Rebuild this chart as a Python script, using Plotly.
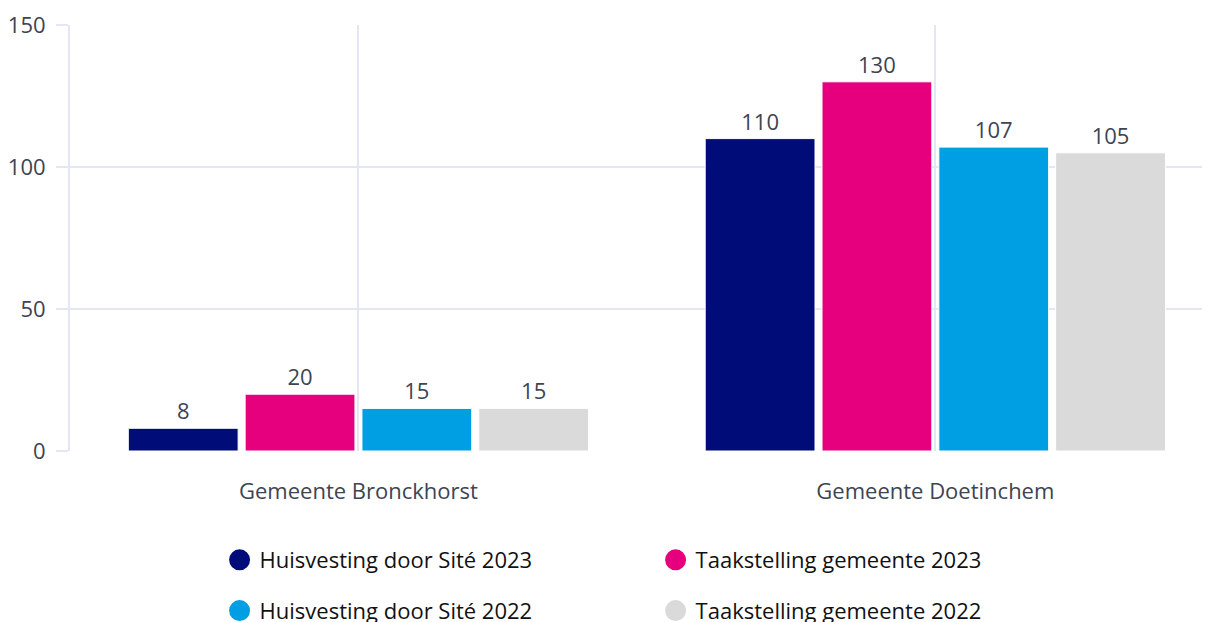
import plotly.graph_objects as go

categories = ["Gemeente Bronckhorst", "Gemeente Doetinchem"]
series_names = ["Huisvesting door Sité 2023", "Taakstelling gemeente 2023",
                "Huisvesting door Sité 2022", "Taakstelling gemeente 2022"]
huisvesting_2023 = [8, 110]
taakstelling_2023 = [20, 130]
huisvesting_2022 = [15, 107]
taakstelling_2022 = [15, 105]
series_values = [huisvesting_2023, taakstelling_2023, huisvesting_2022, taakstelling_2022]
colors = ["#000c78", "#e6007e", "#009fe3", "#dadada"]
y_ticks = [0, 50, 100, 150]

FONT = "Open Sans"
GRID = "#e4e7f3"
LABEL = "#3d4452"
FS = 22

fig = go.Figure()
for name, vals, col in zip(series_names, series_values, colors):
    fig.add_trace(go.Bar(
        x=categories, y=vals, name=name, marker=dict(color=col, line=dict(color="white", width=1)),
        text=[str(v) for v in vals], textposition="outside", cliponaxis=False,
        textfont=dict(family=FONT, size=FS, color=LABEL), showlegend=False,
    ))

legend_ids = ["legend", "legend", "legend2", "legend2"]
for name, col, lg in zip(series_names, colors, legend_ids):
    fig.add_trace(go.Scatter(
        x=[None], y=[None], mode="markers", name=name, legend=lg,
        marker=dict(symbol="circle", size=16, color=col, line=dict(color=col, width=5)),
    ))

leg_common = dict(orientation="h", xanchor="left", yanchor="middle",
                  font=dict(family=FONT, size=FS, color="#111111"),
                  entrywidth=391, entrywidthmode="pixels", bgcolor="rgba(0,0,0,0)")

fig.update_layout(
    width=1210, height=622,
    margin=dict(l=62, r=0, t=17, b=179, autoexpand=False),
    paper_bgcolor="white", plot_bgcolor="white",
    barmode="group", bargap=0.19, bargroupgap=0.06,
    font=dict(family=FONT, size=FS, color=LABEL),
    legend=dict(x=0.1303, y=-0.256, **leg_common),
    legend2=dict(x=0.1303, y=-0.375, **leg_common),
    xaxis=dict(
        type="category", range=[-0.5, 1.49], showgrid=True, gridcolor=GRID, gridwidth=2,
        ticks="outside", ticklen=21, tickcolor="rgba(0,0,0,0)",
        tickfont=dict(family=FONT, size=FS, color=LABEL), showline=False, zeroline=False,
    ),
    yaxis=dict(
        range=[0, 150], tickvals=y_ticks, showgrid=True, gridcolor=GRID, gridwidth=2,
        ticks="outside", ticklen=12, tickcolor=GRID, tickwidth=2,
        showline=True, linecolor=GRID, linewidth=2, zeroline=False,
        ticklabelstandoff=6,
        tickfont=dict(family=FONT, size=FS, color=LABEL),
    ),
)

fig.write_html("out.html")
